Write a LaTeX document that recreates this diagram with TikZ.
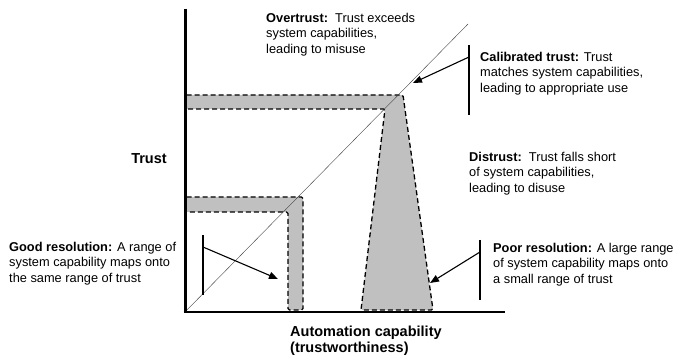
\documentclass[tikz,border=0pt]{standalone}
\usepackage{fontspec}
\setmainfont{Liberation Sans}
\usetikzlibrary{arrows.meta}
\definecolor{bandgray}{RGB}{192,192,192}
\tikzset{
  band/.style={fill=bandgray, draw=black, line width=1.3pt, dash pattern=on 5pt off 3pt, rounded corners=1.5pt},
  note/.style={anchor=base west, align=left, inner sep=0pt, font=\fontsize{12.8}{15.5}\selectfont},
  axislabel/.style={inner sep=0pt, font=\fontsize{14.5}{16.5}\selectfont\bfseries},
  bracket/.style={line width=1.4pt},
  pointer/.style={line width=1.1pt, -{Triangle[length=9pt,width=7pt]}}
}

\begin{document}
\begin{tikzpicture}[x=1pt, y=-1pt]
  \useasboundingbox (0,0) rectangle (673,358);

  % ranges of trust against capability
  \draw[band] (185,95) -- (403,95) -- (433,310) -- (361,310) -- (385,109) -- (185,109) -- cycle;
  \draw[band] (185,197) -- (303,197) -- (303,310) -- (288,310) -- (288,212) -- (185,212) -- cycle;

  % axes and perfect calibration line
  \coordinate (o) at (185,312);
  \coordinate (ytop) at (185,9);
  \coordinate (xend) at (505,312);
  \coordinate (diag) at (468,24);
  \draw[line width=0.4pt, black!75] (o) -- (diag);
  \draw[line width=3pt] (ytop) -- (185,313.5);
  \draw[line width=2.5pt] (183.5,312) -- (xend);

  \node[axislabel] (trust) at (149,159) {Trust};
  \node[axislabel, anchor=base west, align=left] (capability) at (290,353) {Automation capability\\(trustworthiness)};

  % annotations (anchored at the last baseline)
  \node[note] (over) at (266,53.5) {\textbf{Overtrust:}\ \ Trust exceeds\\system capabilities,\\leading to misuse};
  \node[note] (calib) at (480,92.5) {\textbf{Calibrated trust:} Trust\\matches system capabilities,\\leading to appropriate use};
  \node[note] (distrust) at (469,192.5) {\textbf{Distrust:}\ \ Trust falls short\\of system capabilities,\\leading to disuse};
  \node[note] (good) at (9,282.5) {\textbf{Good resolution:} A range of\\system capability maps onto\\the same range of trust};
  \node[note] (poor) at (493,283.5) {\textbf{Poor resolution:} A large range\\of system capability maps onto\\a small range of trust};

  % brackets and pointers
  \coordinate (calibtop) at (469,45);
  \coordinate (calibbot) at (469,115);
  \coordinate (calibfrom) at (469,57);
  \coordinate (calibto) at (413,83);
  \draw[bracket] (calibtop) -- (calibbot);
  \draw[pointer] (calibfrom) -- (calibto);

  \coordinate (goodtop) at (203,235);
  \coordinate (goodbot) at (203,295);
  \coordinate (goodfrom) at (203,247);
  \coordinate (goodto) at (278,279);
  \draw[bracket] (goodtop) -- (goodbot);
  \draw[pointer] (goodfrom) -- (goodto);

  \coordinate (poortop) at (480,240);
  \coordinate (poorbot) at (480,300);
  \coordinate (poorfrom) at (480,252);
  \coordinate (poorto) at (430,283);
  \draw[bracket] (poortop) -- (poorbot);
  \draw[pointer] (poorfrom) -- (poorto);
\end{tikzpicture}
\end{document}
